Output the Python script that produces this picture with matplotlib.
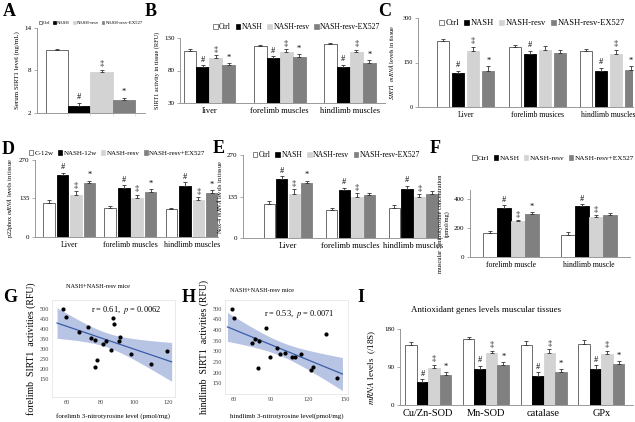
import numpy as np
import matplotlib
matplotlib.use('Agg')
import matplotlib.pyplot as plt

plt.rcParams['font.family'] = ['Liberation Serif', 'DejaVu Serif']
plt.rcParams['mathtext.fontset'] = 'stix'

# ---- data ----
colors = ['white', 'black', '#d3d3d3', '#808080']

A_vals = [10.9, 3.0, 7.8, 3.8]
A_err = [0.2, 0.4, 0.3, 0.25]
A_marks = ['', '#', '‡', '*']
A_legend = ['Ctrl', 'NASH', 'NASH-resv', 'NASH-resv-EX527']

B_groups = ['liver', 'forelimb muscles', 'hindlimb muscles']
B_vals = [[110.5, 117, 120.5], [85.5, 99, 86], [99, 108, 108], [88, 101.5, 92]]
B_err = [[3, 3, 2.5], [3, 3, 3], [5, 5, 4], [4, 4, 4]]
B_marks = [['', '', ''], ['#', '#', '#'], ['‡', '‡', '‡'], ['*', '*', '*']]
B_legend = ['Ctrl', 'NASH', 'NASH-resv', 'NASH-resv-EX527']

C_groups = ['Liver', 'forelimb musices', 'hindlimb muscles']
C_vals = [[222, 202, 188], [113, 178, 121], [188, 192, 178], [123, 181, 125]]
C_err = [[8, 8, 8], [10, 12, 12], [14, 14, 14], [14, 12, 12]]
C_marks = [['', '', ''], ['#', '#', '#'], ['‡', '', '‡'], ['*', '', '*']]
C_legend = ['Ctrl', 'NASH', 'NASH-resv', 'NASH-resv-EX527']

D_groups = ['Liver', 'forelimb muscles', 'hindlimb muscles']
D_vals = [[120, 100, 97], [218, 172, 180], [148, 138, 128], [190, 158, 155]]
D_err = [[8, 7, 6], [8, 10, 12], [12, 10, 12], [8, 10, 10]]
D_marks = [['', '', ''], ['#', '#', '#'], ['‡', '‡', '‡'], ['*', '*', '*']]
D_legend = ['C-12w', 'NASH-12w', 'NASH-resv', 'NASH-resv+EX527']

E_groups = ['Liver', 'forelimb muscles', 'hindlimb muscles']
E_vals = [[112, 90, 98], [192, 155, 160], [143, 133, 132], [178, 140, 143]]
E_err = [[7, 6, 8], [9, 9, 10], [15, 12, 10], [8, 8, 9]]
E_marks = [['', '', ''], ['#', '#', '#'], ['‡', '‡', '‡'], ['*', '', '']]
E_legend = ['Ctrl', 'NASH', 'NASH-resv', 'NASH-resv-EX527']

F_groups = ['forelimb muscle', 'hindlimb muscle']
F_vals = [[162, 150], [338, 348], [245, 278], [298, 290]]
F_err = [[18, 22], [16, 16], [10, 8], [10, 10]]
F_marks = [['', ''], ['#', '#'], ['‡', '‡'], ['*', '']]
F_legend = ['Ctrl', 'NASH', 'NASH-resv', 'NASH-resv+EX527']

I_groups = ['Cu/Zn-SOD', 'Mn-SOD', 'catalase', 'GPx']
I_vals = [[143, 156, 143, 144], [55, 86, 69, 86], [88, 123, 123, 120], [72, 94, 78, 97]]
I_err = [[7, 6, 8, 9], [6, 7, 8, 8], [7, 5, 9, 9], [6, 7, 7, 7]]
I_marks = [['', '', '', ''], ['#', '#', '#', '#'], ['‡', '‡', '‡', '‡'], ['*', '*', '*', '*']]

G_x = [57.5, 59.4, 67.3, 72.5, 74.4, 76.3, 76.3, 77.9, 81.5, 83, 86, 87.3, 88, 91, 91.5, 98, 110, 119]
G_y = [500, 460, 385, 408, 355, 345, 208, 247, 325, 342, 293, 455, 425, 338, 358, 275, 227, 292]

H_x = [58.6, 60.5, 86.1, 75.1, 77, 80.6, 79.3, 89.4, 95.2, 97.1, 101.8, 106.8, 109.5, 114.2, 122.2, 123.8, 134.8, 143.9]
H_y = [500, 458, 408, 341, 356, 348, 223, 275, 314, 286, 294, 273, 273, 289, 211, 227, 383, 177]

W, H = 635, 422
fig = plt.figure(figsize=(W / 100, H / 100), dpi=100)


def box(l, t, r, b):
    return fig.add_axes([l / W, 1 - b / H, (r - l) / W, (b - t) / H])


def bars(ax, vals, errs, marks, width, step, xlim, ylim, yticks, tfs=5, mfs=6, gap_edge=0.6):
    n = len(vals[0])
    x = np.arange(n)
    for i in range(4):
        pos = x + (i - 1.5) * step
        ax.bar(pos, vals[i], width, color=colors[i],
               edgecolor='#555555' if i == 0 else colors[i], linewidth=gap_edge, zorder=2)
        ax.errorbar(pos, vals[i], yerr=[np.zeros(n), errs[i]], fmt='none',
                    ecolor='#333333', elinewidth=0.6, capsize=1.3, capthick=0.6, zorder=3)
        for j in range(n):
            if marks[i][j]:
                ax.text(pos[j], vals[i][j] + errs[i][j] + (ylim[1] - ylim[0]) * 0.02,
                        marks[i][j], ha='center', va='bottom', fontsize=mfs)
    ax.set_xlim(*xlim)
    ax.set_ylim(*ylim)
    ax.set_yticks(yticks)
    ax.set_xticks(x)
    ax.tick_params(axis='x', length=0, labelsize=tfs + 1, pad=3)
    ax.tick_params(axis='y', length=2, width=0.5, labelsize=tfs, pad=2, color='#888888')
    for s in ['top', 'right']:
        ax.spines[s].set_visible(False)
    for s in ['left', 'bottom']:
        ax.spines[s].set_color('#999999')
        ax.spines[s].set_linewidth(0.7)


def legend(ax, labels, fs, anchor, loc='center'):
    from matplotlib.patches import Patch
    hs = [Patch(facecolor=c, edgecolor='#555555' if c == 'white' else c, linewidth=0.5) for c in colors]
    ax.legend(hs, labels, ncol=4, frameon=False, fontsize=fs, loc=loc, bbox_to_anchor=anchor,
              handlelength=0.6, handleheight=0.6, handletextpad=0.2, columnspacing=0.6,
              borderaxespad=0, borderpad=0)


# A
ax = box(37, 28, 145, 113)
for i in range(4):
    ax.bar(i, A_vals[i], 1.0, bottom=0, color=colors[i],
           edgecolor='#555555' if i == 0 else colors[i], linewidth=0.6, zorder=2)
    ax.errorbar(i, A_vals[i], yerr=[[0], [A_err[i]]], fmt='none', ecolor='#333333',
                elinewidth=0.6, capsize=1.5, capthick=0.6, zorder=3)
    if A_marks[i]:
        ax.text(i, A_vals[i] + A_err[i] + 0.3, A_marks[i], ha='center', va='bottom', fontsize=6)
ax.set_xlim(-0.9, 3.95)
ax.set_ylim(2, 14)
ax.set_yticks([2, 8, 14])
ax.set_xticks([0.5, 1.5, 2.5, 3.5])
ax.set_xticklabels([])
ax.tick_params(axis='x', length=2, width=0.4, color='#cccccc', direction='out')
ax.tick_params(axis='y', length=2, width=0.5, labelsize=5, pad=2, color='#888888')
for s in ['top', 'right']:
    ax.spines[s].set_visible(False)
for s in ['left', 'bottom']:
    ax.spines[s].set_color('#999999')
    ax.spines[s].set_linewidth(0.7)
ax.set_ylabel('Serum SIRT1 level (ng/mL)', fontsize=5, labelpad=3)
legend(ax, A_legend, 3.4, (0.5, 1.06))

# B
ax = box(180, 38, 385, 103)
bars(ax, B_vals, B_err, B_marks, 0.185, 0.185, (-0.42, 2.5), (30, 130), [30, 80, 130])
ax.set_xticklabels(B_groups)
ax.set_ylabel('SIRT1 activity in tissue (RFU)', fontsize=4.5, labelpad=3)
legend(ax, B_legend, 5.5, (0.57, 1.17))

# C
ax = box(418, 18, 633, 107)
bars(ax, C_vals, C_err, C_marks, 0.17, 0.21, (-0.67, 2.34), (0, 300), [0, 150, 300], tfs=4.5)
ax.set_xticklabels(C_groups, fontsize=5.5)
ax.set_ylabel(r'$\it{SIRT1}$  $\it{mRNA}$ levels in tissue', fontsize=4.5, labelpad=5)
legend(ax, C_legend, 6.1, (0.53, 0.94))

# D
ax = box(35, 160, 218, 237)
bars(ax, D_vals, D_err, D_marks, 0.19, 0.22, (-0.56, 2.43), (0, 270), [0, 135, 270])
ax.set_xticklabels(D_groups, fontsize=5.7)
ax.set_ylabel(r'p22phox $\it{mRNA}$ levels in tissue', fontsize=4.5, labelpad=3)
legend(ax, D_legend, 5.0, (0.45, 1.09))

# E
ax = box(243, 155, 442, 238)
bars(ax, E_vals, E_err, E_marks, 0.18, 0.2, (-0.72, 2.46), (0, 270), [0, 135, 270])
ax.set_xticklabels(E_groups)
ax.set_ylabel(r'Nox-4 $\it{mRNA}$ levels in tissue', fontsize=4.5, labelpad=2)
legend(ax, E_legend, 5.5, (0.47, 1.0))

# F
ax = box(470, 190, 630, 257)
bars(ax, F_vals, F_err, F_marks, 0.18, 0.18, (-0.53, 1.53), (0, 460), [0, 200, 400])
ax.set_xticklabels(F_groups, fontsize=5.5)
ax.set_ylabel('muscular 3-nitrotyrosine concentration\n(pmol/mg)', fontsize=4.5, labelpad=3)
legend(ax, F_legend, 5.2, (0.52, 1.48))

# I
ax = box(400, 329, 633, 405)
bars(ax, I_vals, I_err, I_marks, 0.2, 0.2, (-0.49, 3.55), (0, 180), [0, 90, 180], tfs=5)
ax.set_xticklabels(I_groups, fontsize=7.5)
ax.set_ylabel(r'$\it{mRNA}$ levels  (/18S)', fontsize=6.5, labelpad=4)
ax.set_title('Antioxidant genes levels muscular tissues', fontsize=6.4, pad=12, x=0.37)


# G, H scatter with regression
def scatter(ax, xs, ys, xl, yl, xt, yt, xfit):
    xs = np.array(xs)
    ys = np.array(ys)
    k, b0 = np.polyfit(xs, ys, 1)
    n = len(xs)
    res = ys - (k * xs + b0)
    s = np.sqrt(np.sum(res ** 2) / (n - 2))
    sxx = np.sum((xs - xs.mean()) ** 2)
    xx = np.linspace(xfit[0], xfit[1], 100)
    yy = k * xx + b0
    ci = 2.12 * s * np.sqrt(1 / n + (xx - xs.mean()) ** 2 / sxx)
    ax.fill_between(xx, yy - ci, yy + ci, color='#b7c4e4', linewidth=0, zorder=1)
    ax.plot(xx, yy, color='#3a5da8', lw=0.9, zorder=2)
    ax.scatter(xs, ys, s=4, color='black', zorder=3)
    ax.set_xlim(*xl)
    ax.set_ylim(*yl)
    ax.set_xticks(xt)
    ax.set_yticks(yt)
    ax.tick_params(length=0, labelsize=4.5, labelcolor='#444444', pad=2)
    for s_ in ax.spines.values():
        s_.set_color('#e6e6e6')
        s_.set_linewidth(0.6)


ax = box(52, 300, 175, 397)
scatter(ax, G_x, G_y, (51, 124), (60, 545), [60, 80, 100, 120], list(range(150, 501, 50)), (54, 122))
ax.set_xlabel('forelimb 3-nitrotyrosine level (pmol/mg)', fontsize=5, labelpad=6)
ax.set_ylabel('forelimb  SIRT1  activities (RFU)', fontsize=7, labelpad=3)
ax.text(0.6, 0.96, r'r = 0.61,  $\it{p}$ = 0.0062', transform=ax.transAxes, ha='center', va='top', fontsize=6)
fig.text(98 / W, 1 - 287 / H, 'NASH+NASH-resv mice', fontsize=4.5, ha='center', va='center')

ax = box(225, 300, 348, 394)
scatter(ax, H_x, H_y, (53, 152.5), (100, 540), [60, 90, 120, 150], list(range(150, 501, 50)), (55, 148))
ax.set_xlabel('hindlimb 3-nitrotyrosine level(pmol/mg)', fontsize=5, labelpad=8)
ax.set_ylabel('hindlimb  SIRT1  activities (RFU)', fontsize=7, labelpad=3)
ax.text(0.6, 0.92, r'r = 0.53,  $\it{p}$ = 0.0071', transform=ax.transAxes, ha='center', va='top', fontsize=6)
fig.text(262 / W, 1 - 290 / H, 'NASH+NASH-resv mice', fontsize=4.5, ha='center', va='center')

# panel letters
for lab, x, y in [('A', 3, 12), ('B', 145, 12), ('C', 378, 12), ('D', 2, 150), ('E', 213, 149),
                  ('F', 430, 148), ('G', 3, 297), ('H', 182, 297), ('I', 357, 298)]:
    fig.text(x / W, 1 - y / H, lab, fontsize=13, fontweight='bold', va='center', ha='left')

fig.savefig('out.png', dpi=100)
